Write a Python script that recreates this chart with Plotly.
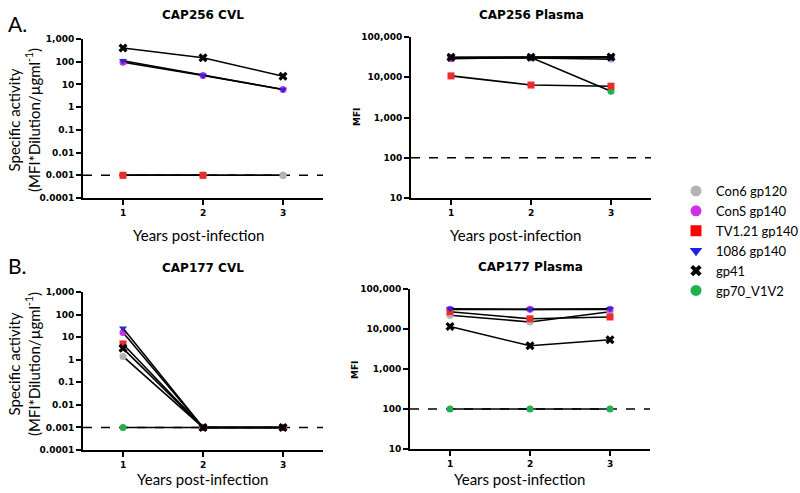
import plotly.graph_objects as go

# ---------------- data ----------------
years = [1, 2, 3]
series_names = ["Con6 gp120", "ConS gp140", "TV1.21 gp140", "1086 gp140", "gp41", "gp70_V1V2"]
series_colors = ["#b3b3b3", "#cf2fe6", "#ee2b2b", "#2a2ad6", "#000000", "#21b04b"]
series_symbols = ["circle", "circle", "square", "triangle-down", "x", "circle"]

# CAP256 CVL (specific activity)
cap256_cvl_con6 = [0.001, 0.001, 0.001]
cap256_cvl_cons = [95, 25, 6]
cap256_cvl_tv121 = [0.001, 0.001, None]
cap256_cvl_1086 = [110, 25, 6]
cap256_cvl_gp41 = [400, 150, 23]
cap256_cvl_gp70 = [0.001, 0.001, 0.001]

# CAP256 Plasma (MFI)
cap256_pl_con6 = [30000, 30000, 28000]
cap256_pl_cons = [29000, 31000, 31000]
cap256_pl_tv121 = [10800, 6400, 6000]
cap256_pl_1086 = [31000, 31000, 31000]
cap256_pl_gp41 = [31500, 31500, 32000]
cap256_pl_gp70 = [30500, 31000, 4500]

# CAP177 CVL (specific activity)
cap177_cvl_con6 = [1.4, 0.001, 0.001]
cap177_cvl_cons = [16, 0.001, 0.001]
cap177_cvl_tv121 = [5, 0.001, 0.001]
cap177_cvl_1086 = [25, 0.001, 0.001]
cap177_cvl_gp41 = [3.2, 0.001, 0.001]
cap177_cvl_gp70 = [0.001, 0.001, 0.001]

# CAP177 Plasma (MFI)
cap177_pl_con6 = [22000, 15000, 27000]
cap177_pl_cons = [31000, 31000, 31000]
cap177_pl_tv121 = [27000, 18000, 20000]
cap177_pl_1086 = [32000, 31000, 32000]
cap177_pl_gp41 = [11500, 3800, 5400]
cap177_pl_gp70 = [100, 100, 100]

cvl_tickvals = [0.0001, 0.001, 0.01, 0.1, 1, 10, 100, 1000]
cvl_ticktext = ["0.0001", "0.001", "0.01", "0.1", "1", "10", "100", "1,000"]
pl_tickvals = [10, 100, 1000, 10000, 100000]
pl_ticktext = ["10", "100", "1,000", "10,000", "100,000"]
cvl_cutoff = 0.001
pl_cutoff = 100

panels = [
    ("x", "y", [cap256_cvl_con6, cap256_cvl_cons, cap256_cvl_tv121, cap256_cvl_1086, cap256_cvl_gp41, cap256_cvl_gp70]),
    ("x2", "y2", [cap256_pl_con6, cap256_pl_cons, cap256_pl_tv121, cap256_pl_1086, cap256_pl_gp41, cap256_pl_gp70]),
    ("x3", "y3", [cap177_cvl_con6, cap177_cvl_cons, cap177_cvl_tv121, cap177_cvl_1086, cap177_cvl_gp41, cap177_cvl_gp70]),
    ("x4", "y4", [cap177_pl_con6, cap177_pl_cons, cap177_pl_tv121, cap177_pl_1086, cap177_pl_gp41, cap177_pl_gp70]),
]

W, H = 800, 493
fig = go.Figure()

draw_order = [5, 0, 1, 2, 3, 4]
for xa, ya, data in panels:
    for i in draw_order:
        sym = series_symbols[i]
        size = 8 if sym == "x" else 7
        fig.add_trace(go.Scatter(
            x=years, y=data[i], xaxis=xa, yaxis=ya, mode="lines+markers",
            line=dict(color="black", width=1.6),
            marker=dict(color=series_colors[i], symbol=sym, size=size, line=dict(width=0)),
            showlegend=False, name=series_names[i], connectgaps=False,
        ))

legend_colors = ["#b3b3b3", "#d22ee8", "#ff0000", "#2222dd", "#000000", "#1fb04a"]
for i, nm in enumerate(series_names):
    fig.add_trace(go.Scatter(
        x=[None], y=[None], mode="markers", name=nm,
        marker=dict(color=legend_colors[i], symbol=series_symbols[i], size=11 if series_symbols[i] != "x" else 10, line=dict(width=0)),
        showlegend=True,
    ))

def px_dom_x(a, b):
    return [a / W, b / W]

def px_dom_y(top, bottom):
    return [1 - bottom / H, 1 - top / H]

tick_font = dict(family="DejaVu Sans", size=9, color="black", weight="bold")
common_x = dict(range=[0.5, 3.5], tickvals=[1, 2, 3], ticktext=["1", "2", "3"], showline=True,
                linecolor="black", linewidth=2, ticks="outside", ticklen=5, tickwidth=2,
                tickcolor="black", showgrid=False, zeroline=False, tickfont=tick_font, fixedrange=True)
common_y = dict(type="log", showline=True, linecolor="black", linewidth=2, ticks="outside",
                ticklen=5, tickwidth=2, tickcolor="black", showgrid=False, zeroline=False,
                tickfont=tick_font, fixedrange=True)

layout = dict(
    width=W, height=H, margin=dict(l=0, r=0, t=0, b=0, autoexpand=False),
    paper_bgcolor="white", plot_bgcolor="white",
    xaxis=dict(common_x, domain=px_dom_x(83, 323), anchor="y"),
    yaxis=dict(common_y, domain=px_dom_y(39, 198), anchor="x", range=[-4, 3], tickvals=cvl_tickvals, ticktext=cvl_ticktext),
    xaxis2=dict(common_x, domain=px_dom_x(411, 651), anchor="y2"),
    yaxis2=dict(common_y, domain=px_dom_y(37, 198), anchor="x2", range=[1, 5], tickvals=pl_tickvals, ticktext=pl_ticktext),
    xaxis3=dict(common_x, domain=px_dom_x(83, 323), anchor="y3"),
    yaxis3=dict(common_y, domain=px_dom_y(292, 450), anchor="x3", range=[-4, 3], tickvals=cvl_tickvals, ticktext=cvl_ticktext),
    xaxis4=dict(common_x, domain=px_dom_x(410, 650), anchor="y4"),
    yaxis4=dict(common_y, domain=px_dom_y(289, 449), anchor="x4", range=[1, 5], tickvals=pl_tickvals, ticktext=pl_ticktext),
    legend=dict(x=676 / W, y=1 - 176 / H, xanchor="left", yanchor="top",
                font=dict(family="Lato", size=13, color="black"), tracegroupgap=0,
                itemsizing="trace", bgcolor="rgba(0,0,0,0)"),
    showlegend=True,
)
fig.update_layout(layout)

# cutoff dashed lines
for xa, ya, cut in [("x", "y", cvl_cutoff), ("x2", "y2", pl_cutoff), ("x3", "y3", cvl_cutoff), ("x4", "y4", pl_cutoff)]:
    fig.add_shape(type="line", xref=xa + " domain", yref=ya, x0=0, x1=1, y0=cut, y1=cut,
                  line=dict(color="black", width=1.5, dash="dash"), layer="below")

title_font = dict(family="DejaVu Sans", size=12, color="black", weight="bold")
label_font = dict(family="Lato", size=15, color="black")
ann = []
def A(text, x, y, font, angle=0):
    ann.append(dict(text=text, x=x / W, y=1 - y / H, xref="paper", yref="paper", showarrow=False,
                    xanchor="center", yanchor="middle", font=font, textangle=angle))

A("CAP256 CVL", 203, 15, title_font)
A("CAP256 Plasma", 531, 15, title_font)
A("CAP177 CVL", 203, 268, title_font)
A("CAP177 Plasma", 530, 267, title_font)
A("A.", 17, 23, dict(family="Lato", size=21, color="black"))
A("B.", 17, 265, dict(family="Lato", size=21, color="black"))
ylab = "Specific activity<br>(MFI*Dilution/µgml<sup>-1</sup>)"
A(ylab, 24, 120, label_font, -90)
A(ylab, 24, 364, label_font, -90)
A("Years post-infection", 198, 235, label_font)
A("Years post-infection", 515, 235, label_font)
A("Years post-infection", 203, 479, label_font)
A("Years post-infection", 519, 479, label_font)
mfi_font = dict(family="DejaVu Sans", size=9, color="black", weight="bold")
A("MFI", 357, 117, mfi_font, -90)
A("MFI", 355, 370, mfi_font, -90)
fig.update_layout(annotations=ann)

fig.write_html("out.html", config={"displayModeBar": False},
               post_script="document.body.style.margin='0px';document.body.style.overflow='hidden';")
